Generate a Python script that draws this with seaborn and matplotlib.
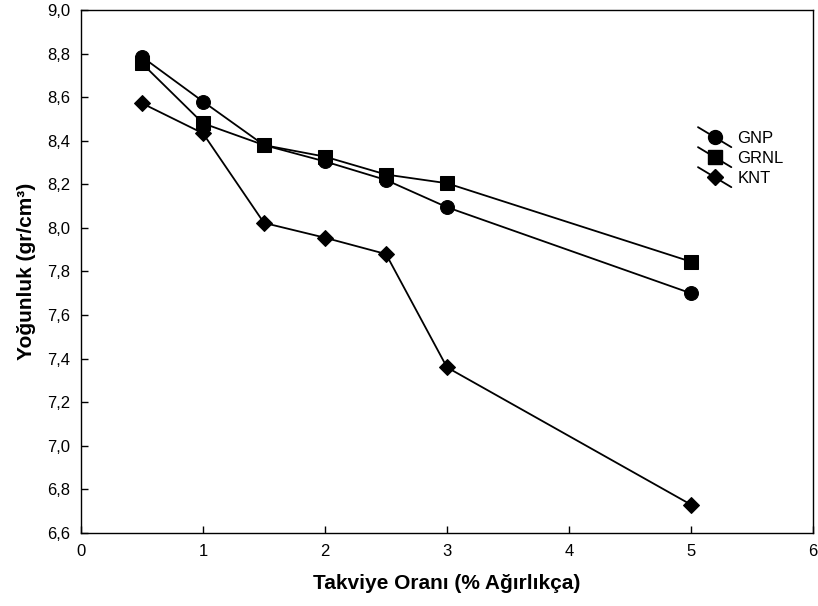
import matplotlib
matplotlib.use("Agg")
import matplotlib.pyplot as plt
import seaborn as sns
import pandas as pd
from matplotlib.lines import Line2D
from matplotlib.legend_handler import HandlerBase
from matplotlib.ticker import FuncFormatter

# Reinforcement ratio (% by weight)
ratio = [0.5, 1.0, 1.5, 2.0, 2.5, 3.0, 5.0]

# Density (g/cm3) for each reinforcement type
gnp = [8.785, 8.58, 8.38, 8.305, 8.22, 8.095, 7.70]
grnl = [8.755, 8.48, 8.38, 8.327, 8.245, 8.205, 7.845]
knt = [8.572, 8.434, 8.023, 7.955, 7.88, 7.36, 6.73]

series_names = ["GNP", "GRNL", "KNT"]
series_values = [gnp, grnl, knt]
series_markers = {"GNP": "o", "GRNL": "s", "KNT": "D"}
series_sizes = {"GNP": 10, "GRNL": 10, "KNT": 8}

x_ticks = [0, 1, 2, 3, 4, 5, 6]
y_ticks = [6.6, 6.8, 7.0, 7.2, 7.4, 7.6, 7.8, 8.0, 8.2, 8.4, 8.6, 8.8, 9.0]

rows = []
for name, vals in zip(series_names, series_values):
    for x, y in zip(ratio, vals):
        rows.append({"ratio": x, "density": y, "series": name})
df = pd.DataFrame(rows)

sns.set_style("white")
plt.rcParams["font.family"] = ["Liberation Sans", "DejaVu Sans"]
plt.rcParams["text.color"] = "black"
plt.rcParams["axes.labelcolor"] = "black"

fig = plt.figure(figsize=(8.18, 6.06), dpi=100)
ax = fig.add_axes([81 / 818, 1 - 533 / 606, (813 - 81) / 818, (533 - 10) / 606])

for name in series_names:
    sub = df[df["series"] == name]
    sns.lineplot(data=sub, x="ratio", y="density", ax=ax, color="black",
                 marker=series_markers[name], markersize=series_sizes[name],
                 markeredgecolor="black", markerfacecolor="black",
                 linewidth=1.3, sort=False, estimator=None, legend=False)

ax.set_xlim(0, 6)
ax.set_ylim(6.6, 9.0)
ax.set_xticks(x_ticks)
ax.set_yticks(y_ticks)
ax.yaxis.set_major_formatter(FuncFormatter(lambda v, p: f"{v:.1f}".replace(".", ",")))
ax.xaxis.set_major_formatter(FuncFormatter(lambda v, p: f"{v:g}"))

for side in ["left", "bottom", "top", "right"]:
    ax.spines[side].set_visible(True)
    ax.spines[side].set_color("black")
    ax.spines[side].set_linewidth(1.0)

ax.tick_params(axis="both", which="major", direction="in", length=5, width=1,
               color="black", labelsize=12, labelcolor="black")
ax.tick_params(axis="x", pad=8)
ax.tick_params(axis="y", pad=8)
ax.tick_params(top=False, right=False, bottom=True, left=True)

ax.set_xlabel("Takviye Oranı (% Ağırlıkça)", fontsize=15, fontweight="bold",
              labelpad=11, color="black")
ax.set_ylabel("Yoğunluk (gr/cm³)", fontsize=15, fontweight="bold",
              labelpad=8, color="black")


class DiagonalHandler(HandlerBase):
    def create_artists(self, legend, orig_handle, xdescent, ydescent,
                       width, height, fontsize, trans):
        x0, x1 = -xdescent, -xdescent + width
        yc = -ydescent + height / 2
        span = width * 0.3
        line = Line2D([x0, x1], [yc + span, yc - span], color="black",
                      linewidth=1.3, transform=trans)
        mk = Line2D([(x0 + x1) / 2], [yc], marker=orig_handle.get_marker(),
                    markersize=orig_handle.get_markersize(), color="black",
                    linestyle="none", transform=trans)
        return [line, mk]


handles = [Line2D([], [], marker=series_markers[n], markersize=series_sizes[n],
                  color="black") for n in series_names]
leg = ax.legend(handles, series_names, loc="upper left",
                bbox_to_anchor=(698 / 818, 1 - 131 / 606),
                bbox_transform=fig.transFigure, frameon=False, fontsize=12,
                handler_map={Line2D: DiagonalHandler()},
                handlelength=2.0, handletextpad=0.35, labelspacing=0.3,
                borderpad=0, borderaxespad=0)
for t in leg.get_texts():
    t.set_color("black")

fig.savefig("out.png", dpi=100)
